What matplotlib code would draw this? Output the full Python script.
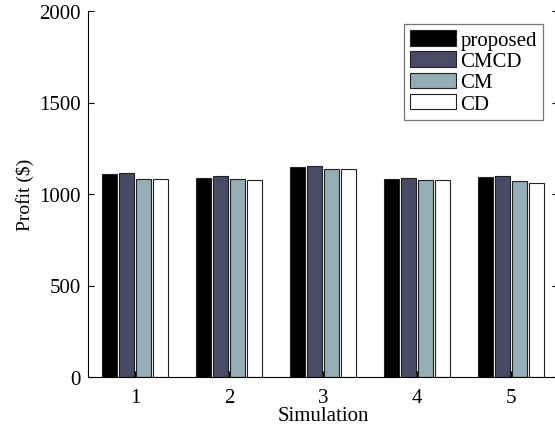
import matplotlib
matplotlib.use('Agg')
import matplotlib.pyplot as plt
import numpy as np

simulations = ['1', '2', '3', '4', '5']
methods = ['proposed', 'CMCD', 'CM', 'CD']
profit = {
    'proposed': [1107, 1089, 1145, 1083, 1094],
    'CMCD':     [1114, 1100, 1154, 1087, 1098],
    'CM':       [1080, 1082, 1136, 1076, 1073],
    'CD':       [1083, 1076, 1136, 1074, 1058],
}
colors = ['#000000', '#4a4a66', '#95adb4', '#ffffff']

plt.rcParams['font.family'] = ['Liberation Serif', 'DejaVu Serif']
plt.rcParams['font.size'] = 15

fig = plt.figure(figsize=(5.55, 4.35), dpi=100)
ax = fig.add_axes([88 / 555, 1 - 378 / 435, 470 / 555, 366 / 435])

x = np.arange(1, len(simulations) + 1)
step = 0.181
width = 0.152
for i, (m, c) in enumerate(zip(methods, colors)):
    ax.bar(x + (i - 1.5) * step, profit[m], width, color=c,
           edgecolor='#222222', linewidth=0.8, label=m)

ax.set_xlim(0.5, 5.5)
ax.set_ylim(0, 2000)
ax.set_yticks([0, 500, 1000, 1500, 2000])
ax.set_xticks(x)
ax.set_xticklabels(simulations)
ax.tick_params(direction='in', right=True, top=False, length=4, labelsize=15)
ax.tick_params(axis='x', pad=8)
ax.tick_params(axis='y', pad=5)
ax.spines['top'].set_visible(False)
ax.set_xlabel('Simulation', fontsize=15, labelpad=-1)
ax.set_ylabel('Profit ($)', fontsize=14, labelpad=4)

leg = ax.legend(loc='upper right', bbox_to_anchor=(543 / 555, 1 - 25 / 435),
                bbox_transform=fig.transFigure, fancybox=False,
                edgecolor='#555555', handlelength=2.2, handleheight=0.75,
                labelspacing=0.06, handletextpad=0.2, borderpad=0.3,
                borderaxespad=0, fontsize=15)
leg.get_frame().set_linewidth(0.9)

fig.savefig('out.png', dpi=100)
